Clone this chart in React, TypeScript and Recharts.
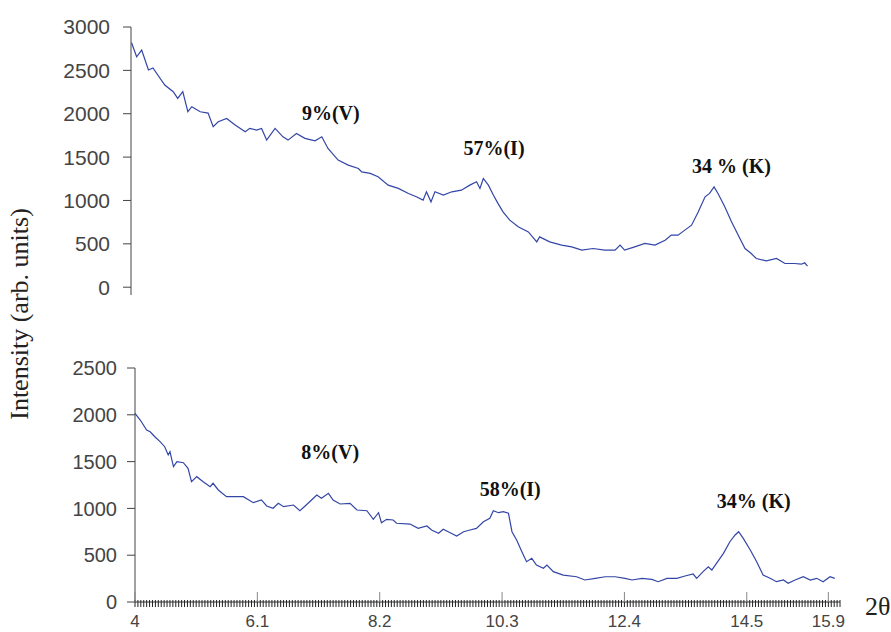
import { LineChart, Line, XAxis, YAxis, ReferenceDot } from 'recharts'

// upper pattern (2θ, intensity)
const TOP_2THETA = [
  4.01, 4.1, 4.19, 4.31, 4.39, 4.6, 4.75, 4.83, 4.92, 5.01, 5.08, 5.23, 5.37, 5.46, 5.55, 5.7, 5.85,
  6.03, 6.11, 6.23, 6.32, 6.41, 6.56, 6.7, 6.79, 6.94, 7.09, 7.27, 7.39, 7.5, 7.68, 7.86, 8.04, 8.1,
  8.25, 8.39, 8.57, 8.75, 8.93, 9.07, 9.19, 9.25, 9.33, 9.4, 9.55, 9.7, 9.87, 10.02, 10.14, 10.2,
  10.26, 10.35, 10.44, 10.52, 10.61, 10.73, 10.88, 11.06, 11.21, 11.26, 11.44, 11.65, 11.83, 12.01,
  12.21, 12.42, 12.6, 12.69, 12.77, 12.95, 13.13, 13.31, 13.49, 13.6, 13.72, 13.84, 13.96, 14.08,
  14.2, 14.28, 14.36, 14.43, 14.55, 14.67, 14.79, 14.91, 15.02, 15.11, 15.29, 15.47, 15.62, 15.79,
  15.91, 15.97, 16.02,
]
const TOP_INTENSITY = [
  2819, 2657, 2734, 2504, 2527, 2331, 2254, 2177, 2254, 2023, 2081, 2023, 2008, 1850, 1907, 1946, 1869,
  1792, 1831, 1811, 1831, 1696, 1831, 1734, 1696, 1773, 1716, 1688, 1734, 1600, 1465, 1408, 1369, 1330,
  1312, 1273, 1177, 1139, 1081, 1042, 1004, 1100, 984, 1100, 1061, 1100, 1119, 1177, 1215, 1139,
  1254, 1177, 1061, 966, 869, 773, 696, 638, 523, 580, 523, 485, 465, 427,
  446, 427, 427, 485, 427, 465, 504, 485, 542, 600, 600, 658, 715, 869,
  1042, 1081, 1157, 1081, 927, 754, 600, 446, 388, 331, 304, 331, 273, 273,
  265, 281, 242,
]

// lower pattern (2θ, intensity)
const BOTTOM_2THETA = [
  4.0, 4.09, 4.2, 4.26, 4.34, 4.43, 4.51, 4.57, 4.6, 4.66, 4.72, 4.83, 4.91, 4.97, 5.06, 5.17, 5.29,
  5.34, 5.43, 5.57, 5.69, 5.86, 6.03, 6.17, 6.26, 6.37, 6.46, 6.55, 6.72, 6.83, 6.92, 7.03, 7.12, 7.2,
  7.32, 7.4, 7.52, 7.69, 7.81, 7.98, 8.09, 8.18, 8.23, 8.32, 8.43, 8.49, 8.72, 8.86, 9.01, 9.09, 9.21,
  9.29, 9.41, 9.52, 9.64, 9.75, 9.86, 9.98, 10.09, 10.15, 10.24, 10.32, 10.41, 10.47, 10.55, 10.64,
  10.72, 10.81, 10.89, 11.01, 11.07, 11.18, 11.35, 11.58, 11.72, 11.9, 12.07, 12.24, 12.41, 12.53,
  12.7, 12.87, 12.98, 13.13, 13.3, 13.44, 13.58, 13.64, 13.75, 13.84, 13.9, 13.98, 14.1, 14.21, 14.3,
  14.36, 14.44, 14.56, 14.67, 14.78, 14.9, 15.01, 15.13, 15.21, 15.33, 15.47, 15.59, 15.7, 15.81,
  15.93, 16.01,
]
const BOTTOM_INTENSITY = [
  2016, 1944, 1838, 1819, 1766, 1713, 1659, 1571, 1606, 1446, 1499, 1488, 1428, 1285, 1339, 1285, 1232,
  1268, 1197, 1125, 1125, 1125, 1061, 1090, 1026, 1001, 1054, 1018, 1036, 975, 1026, 1090, 1143, 1108,
  1161, 1090, 1047, 1054, 983, 975, 883, 954, 847, 883, 876, 841, 833, 787, 812, 769, 734,
  777, 740, 705, 751, 769, 787, 858, 894, 975, 954, 965, 948, 751, 662, 537,
  431, 467, 395, 360, 395, 324, 288, 270, 235, 253, 270, 270, 253, 235,
  253, 242, 217, 253, 253, 278, 299, 253, 324, 377, 342, 413, 520, 644, 716,
  751, 680, 555, 431, 288, 253, 217, 235, 200, 235, 270, 235, 253, 217,
  270, 253,
]

const TOP_Y_TICKS = [0, 500, 1000, 1500, 2000, 2500, 3000]
const BOTTOM_Y_TICKS = [0, 500, 1000, 1500, 2000, 2500]
const X_LABELS = [4, 6.1, 8.2, 10.3, 12.4, 14.5, 15.9]

const TOP_PEAKS = [
  { x: 7.55, y: 2008, text: '9%(V)' },
  { x: 10.45, y: 1604, text: '57%(I)' },
  { x: 14.67, y: 1396, text: '34 % (K)' },
]
const BOTTOM_PEAKS = [
  { x: 7.35, y: 1603, text: '8%(V)' },
  { x: 10.44, y: 1207, text: '58%(I)' },
  { x: 14.62, y: 1079, text: '34% (K)' },
]

const X_MIN = 4
const X_MAX = 16.1
const minorTicks: number[] = []
for (let i = 0; X_MIN + i * 0.05 <= X_MAX + 1e-9; i++) {
  minorTicks.push(Math.round((X_MIN + i * 0.05) * 100) / 100)
}

const topData = TOP_2THETA.map((x, i) => ({ x, y: TOP_INTENSITY[i] }))
const bottomData = BOTTOM_2THETA.map((x, i) => ({ x, y: BOTTOM_INTENSITY[i] }))

const LINE = '#3346a6'
const AXIS = '#444'
const SANS = '"Liberation Sans", Arial, sans-serif'
const SERIF = '"Liberation Serif", "Times New Roman", serif'

const XTick = ({ x, y, payload }: any) => {
  const v = payload.value
  const major = X_LABELS.find((m) => Math.abs(m - v) < 1e-6)
  return (
    <g>
      <line x1={x} x2={x} y1={y - 2} y2={y + 5} stroke="#222" strokeWidth={1} />
      {major !== undefined && (
        <>
          <line x1={x} x2={x} y1={y - 10} y2={y} stroke="#888" strokeWidth={1} />
          <text x={x} y={y + 25} textAnchor="middle" fontSize={17} fill={AXIS} fontFamily={SANS}>
            {major}
          </text>
        </>
      )}
    </g>
  )
}

const peakText = (text: string) => (p: any) => (
  <text
    x={p.cx}
    y={p.cy}
    textAnchor="middle"
    dominantBaseline="central"
    fontFamily={SERIF}
    fontWeight="bold"
    fontSize={20}
    fill="#111"
  >
    {text}
  </text>
)

const App = () => (
  <div style={{ position: 'absolute', left: 0, top: 0, width: 891, height: 632, background: '#fff' }}>
    <div style={{ position: 'absolute', left: 0, top: 0 }}>
      <LineChart width={891} height={300} data={topData} margin={{ top: 27, right: 79, left: 0, bottom: 5 }}>
        <XAxis dataKey="x" type="number" domain={[X_MIN, X_MAX]} hide />
        <YAxis
          type="number"
          domain={[-90, 3000]}
          ticks={TOP_Y_TICKS}
          width={131}
          tickSize={8}
          tickMargin={13}
          stroke={AXIS}
          tick={{ fontSize: 21, fill: AXIS, fontFamily: SANS }}
        />
        <Line type="linear" dataKey="y" stroke={LINE} strokeWidth={1.2} dot={false} isAnimationActive={false} />
        {TOP_PEAKS.map((pk) => (
          <ReferenceDot key={pk.text} x={pk.x} y={pk.y} r={0} shape={peakText(pk.text)} />
        ))}
      </LineChart>
    </div>
    <div style={{ position: 'absolute', left: 0, top: 340 }}>
      <LineChart width={891} height={292} data={bottomData} margin={{ top: 28, right: 51, left: 0, bottom: 0 }}>
        <XAxis
          dataKey="x"
          type="number"
          domain={[X_MIN, X_MAX]}
          ticks={minorTicks}
          interval={0}
          height={30}
          tickSize={0}
          tickMargin={0}
          tickLine={false}
          stroke="#333"
          tick={<XTick />}
        />
        <YAxis
          type="number"
          domain={[0, 2500]}
          ticks={BOTTOM_Y_TICKS}
          width={135}
          tickSize={8}
          tickMargin={10}
          stroke={AXIS}
          tick={{ fontSize: 20, fill: AXIS, fontFamily: SANS }}
        />
        <Line type="linear" dataKey="y" stroke={LINE} strokeWidth={1.2} dot={false} isAnimationActive={false} />
        {BOTTOM_PEAKS.map((pk) => (
          <ReferenceDot key={pk.text} x={pk.x} y={pk.y} r={0} shape={peakText(pk.text)} />
        ))}
      </LineChart>
    </div>
    <svg width={891} height={632} style={{ position: 'absolute', left: 0, top: 0, pointerEvents: 'none' }}>
      <text transform="translate(28,314) rotate(-90)" textAnchor="middle" fontFamily={SERIF} fontSize={26} fill="#222">
        Intensity (arb. units)
      </text>
      <text x={865} y={615} fontFamily={SERIF} fontSize={26} fill="#222">
        2θ
      </text>
    </svg>
  </div>
)

export default App
